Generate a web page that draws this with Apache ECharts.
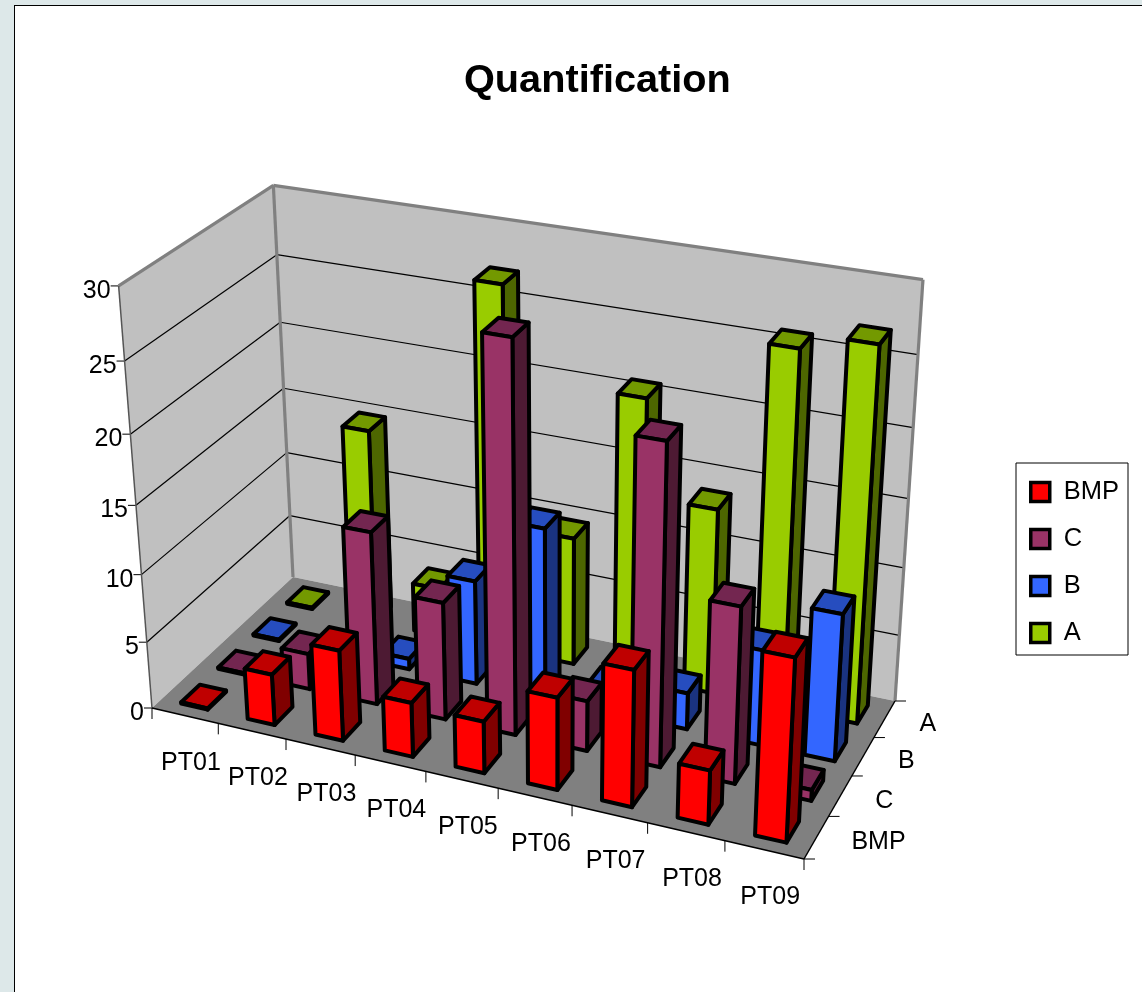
<!DOCTYPE html>
<html>
<head>
<meta charset="utf-8">
<title>Quantification</title>
<script src="https://cdn.jsdelivr.net/npm/echarts@6/dist/echarts.min.js"></script>
<style>
  html, body { margin: 0; padding: 0; background: #dde8e9; overflow: hidden; }
  #box { position: absolute; left: 14px; top: 5px; width: 1140px; height: 1000px; background: #fff; border: 1px solid #000; }
  #chart { position: absolute; left: 0; top: 0; width: 1142px; height: 992px; }
</style>
</head>
<body>
<div id="box"></div>
<div id="chart"></div>
<script>
  var categories = ['PT01', 'PT02', 'PT03', 'PT04', 'PT05', 'PT06', 'PT07', 'PT08', 'PT09'];
  var valueTicks = [0, 5, 10, 15, 20, 25, 30];
  // front row first, the same order as the legend
  var seriesNames = ['BMP', 'C', 'B', 'A'];
  var valuesBMP = [0.1, 3.8, 6.7, 4, 3.8, 6.7, 9.8, 3.9, 12.9];
  var valuesC = [0.1, 2.7, 12.8, 8.7, 28, 3.7, 22.9, 12.7, 0.8];
  var valuesB = [0.1, 0.1, 0.8, 7.8, 12.7, 1.8, 2.7, 7, 10.7];
  var valuesA = [0.1, 14.8, 3.7, 27, 9.6, 20.7, 13.7, 25.8, 26.9];
  var seriesValues = [valuesBMP, valuesC, valuesB, valuesA];
  // front face, top face, side face
  var seriesColors = [
    ['#ff0000', '#bf0000', '#800000'],
    ['#993366', '#732650', '#4d1a33'],
    ['#3366ff', '#264dbf', '#1a3380'],
    ['#99cc00', '#739900', '#4d6600']
  ];

  var FONT = '"Liberation Sans", Arial, sans-serif';
  var BAR_WIDTH = 0.4;
  var BAR_DEPTH = 0.5;

  // where the corners of the plot box land on the page
  var floorFL = [152, 708], floorFR = [804, 859], floorBR = [895, 701], floorBL = [293, 577];
  var topPoints = [[0, 0, 119, 286], [0, 1, 273, 185], [1, 1, 923, 280]];

  // perspective matrix: floor first, then the height column fitted to the top corners
  function buildProjection() {
    var x0 = floorFL[0], y0 = floorFL[1], x1 = floorFR[0], y1 = floorFR[1];
    var x2 = floorBR[0], y2 = floorBR[1], x3 = floorBL[0], y3 = floorBL[1];
    var dx1 = x1 - x2, dx2 = x3 - x2, sx = x0 - x1 + x2 - x3;
    var dy1 = y1 - y2, dy2 = y3 - y2, sy = y0 - y1 + y2 - y3;
    var det = dx1 * dy2 - dx2 * dy1;
    var g = (sx * dy2 - dx2 * sy) / det, h = (dx1 * sy - sx * dy1) / det;
    var a = x1 - x0 + g * x1, b = x3 - x0 + h * x3;
    var d = y1 - y0 + g * y1, e = y3 - y0 + h * y3;
    var rows = topPoints.map(function (p) {
      var w = g * p[0] + h * p[1] + 1;
      return {
        X: p[2], Y: p[3],
        r: p[2] * w - (a * p[0] + b * p[1] + x0),
        s: p[3] * w - (d * p[0] + e * p[1] + y0)
      };
    });
    function mean(key) {
      return rows.reduce(function (t, o) { return t + o[key]; }, 0) / rows.length;
    }
    var mX = mean('X'), mY = mean('Y'), mr = mean('r'), ms = mean('s');
    var num = 0, den = 0;
    rows.forEach(function (o) {
      num += (o.X - mX) * (o.r - mr) + (o.Y - mY) * (o.s - ms);
      den += (o.X - mX) * (o.X - mX) + (o.Y - mY) * (o.Y - mY);
    });
    var i = -num / den, c = mr + mX * i, f = ms + mY * i;
    return function (u, v, z) {
      var w = g * u + h * v + i * z + 1;
      return [(a * u + b * v + c * z + x0) / w, (d * u + e * v + f * z + y0) / w];
    };
  }
  var project = buildProjection();

  // the hidden grid holds the scales, this turns its pixels into 0..1 box units
  function toUnits(api, params, catIndex, value) {
    var pt = api.coord([catIndex, value]);
    var cs = params.coordSys;
    return [(pt[0] - cs.x) / cs.width, 1 - (pt[1] - cs.y) / cs.height];
  }

  function poly(points, fill, stroke, width) {
    return {
      type: 'polygon',
      shape: { points: points },
      style: { fill: fill, stroke: stroke, lineWidth: width, lineJoin: 'round' }
    };
  }
  function line(p, q, color, width) {
    return {
      type: 'line',
      shape: { x1: p[0], y1: p[1], x2: q[0], y2: q[1] },
      style: { stroke: color, lineWidth: width }
    };
  }
  function label(text, x, y, align) {
    return {
      type: 'text',
      style: { text: text, x: x, y: y, align: align, verticalAlign: 'middle', font: '25px ' + FONT, fill: '#000' }
    };
  }

  // walls, floor, grid lines, ticks and axis labels
  function renderFrame(params, api) {
    var kids = [];
    var wallColor = '#c0c0c0', edge = '#808080';
    kids.push(poly([project(0, 0, 0), project(0, 1, 0), project(0, 1, 1), project(0, 0, 1)], wallColor));
    kids.push(poly([project(0, 1, 0), project(1, 1, 0), project(1, 1, 1), project(0, 1, 1)], wallColor));
    kids.push(poly([project(0, 0, 0), project(1, 0, 0), project(1, 1, 0), project(0, 1, 0)], edge));

    valueTicks.forEach(function (t) {
      var z = toUnits(api, params, 0, t)[1];
      var p = project(0, 0, z), q = project(0, 1, z), r = project(1, 1, z);
      if (t > 0 && t < 30) {
        kids.push(line(p, q, '#000', 1.2));
        kids.push(line(q, r, '#000', 1.2));
      }
      kids.push(line([p[0] - 8, p[1]], p, '#000', 1));
      kids.push(label(String(t), p[0] - 8, p[1] + 5, 'right'));
    });

    kids.push(line(project(0, 0, 1), project(0, 1, 1), edge, 3.2));
    kids.push(line(project(0, 1, 1), project(1, 1, 1), edge, 3.2));
    kids.push(line(project(0, 1, 0), project(0, 1, 1), edge, 3.2));
    kids.push(line(project(1, 1, 0), project(1, 1, 1), edge, 3.2));
    kids.push(line(project(0, 0, 0), project(0, 0, 1), '#555', 1.5));
    kids.push(line(project(0, 0, 0), project(1, 0, 0), '#000', 1.5));
    kids.push(line(project(1, 0, 0), project(1, 1, 0), '#000', 1.5));

    categories.forEach(function (name, i) {
      var p = project(i / categories.length, 0, 0);
      kids.push(line(p, [p[0], p[1] + 11], '#000', 1));
      var mid = project(toUnits(api, params, i, 0)[0], 0, 0);
      kids.push(label(name, mid[0] + 6, mid[1] + 47, 'center'));
    });
    var last = project(1, 0, 0);
    kids.push(line(last, [last[0], last[1] + 11], '#000', 1));

    seriesNames.forEach(function (name, i) {
      var p = project(1, i / seriesNames.length, 0);
      kids.push(line(p, [p[0] + 11, p[1]], '#000', 1));
      var mid = project(1, (i + 0.5) / seriesNames.length, 0);
      kids.push(label(name, mid[0] + 35, mid[1] + 5, 'left'));
    });
    var end = project(1, 1, 0);
    kids.push(line(end, [end[0] + 11, end[1]], '#000', 1));
    return { type: 'group', children: kids };
  }

  // one 3D bar, painted as front, top and right faces
  function renderBar(depth) {
    return function (params, api) {
      var unit = toUnits(api, params, api.value(0), api.value(1));
      var bandU = api.size([1, 0])[0] / params.coordSys.width;
      var u0 = unit[0] - bandU * BAR_WIDTH / 2, u1 = unit[0] + bandU * BAR_WIDTH / 2;
      var mid = (depth + 0.5) / seriesNames.length;
      var half = BAR_DEPTH / seriesNames.length / 2;
      var v0 = mid - half, v1 = mid + half, z = unit[1];
      var colors = seriesColors[depth];
      return {
        type: 'group',
        children: [
          poly([project(u1, v0, 0), project(u1, v1, 0), project(u1, v1, z), project(u1, v0, z)], colors[2], '#000', 4),
          poly([project(u0, v0, z), project(u1, v0, z), project(u1, v1, z), project(u0, v1, z)], colors[1], '#000', 4),
          poly([project(u0, v0, 0), project(u1, v0, 0), project(u1, v0, z), project(u0, v0, z)], colors[0], '#000', 4)
        ]
      };
    };
  }

  var series = [{
    name: 'frame',
    type: 'custom',
    z: 1,
    silent: true,
    renderItem: renderFrame,
    data: [[0, 0]],
    encode: { x: 0, y: 1 }
  }];
  // back row is painted first
  for (var k = seriesNames.length - 1; k >= 0; k--) {
    series.push({
      name: seriesNames[k],
      type: 'custom',
      z: 2 + seriesNames.length - k,
      renderItem: renderBar(k),
      itemStyle: { color: seriesColors[k][0] },
      encode: { x: 0, y: 1 },
      data: seriesValues[k].map(function (v, i) { return [i, v]; })
    });
  }

  var option = {
    animation: false,
    backgroundColor: 'transparent',
    title: {
      text: 'Quantification',
      left: 464,
      top: 61,
      padding: 0,
      textStyle: { fontFamily: FONT, fontSize: 39.7, fontWeight: 'bold', color: '#000' }
    },
    legend: {
      orient: 'vertical',
      left: 1016,
      top: 463,
      padding: [16, 9, 9, 13],
      itemGap: 21,
      itemWidth: 19,
      itemHeight: 19,
      icon: 'rect',
      borderColor: '#000',
      borderWidth: 1,
      backgroundColor: '#fff',
      selectedMode: false,
      data: seriesNames,
      itemStyle: { borderColor: '#000', borderWidth: 3.5 },
      textStyle: { fontFamily: FONT, fontSize: 25.5, color: '#000', padding: [2, 0, 0, 9] }
    },
    grid: { left: 0, right: 0, top: 0, bottom: 0 },
    xAxis: { type: 'category', data: categories, show: false },
    yAxis: { type: 'value', min: 0, max: 30, interval: 5, show: false },
    series: series
  };

  echarts.init(document.getElementById('chart')).setOption(option);
</script>
</body>
</html>
